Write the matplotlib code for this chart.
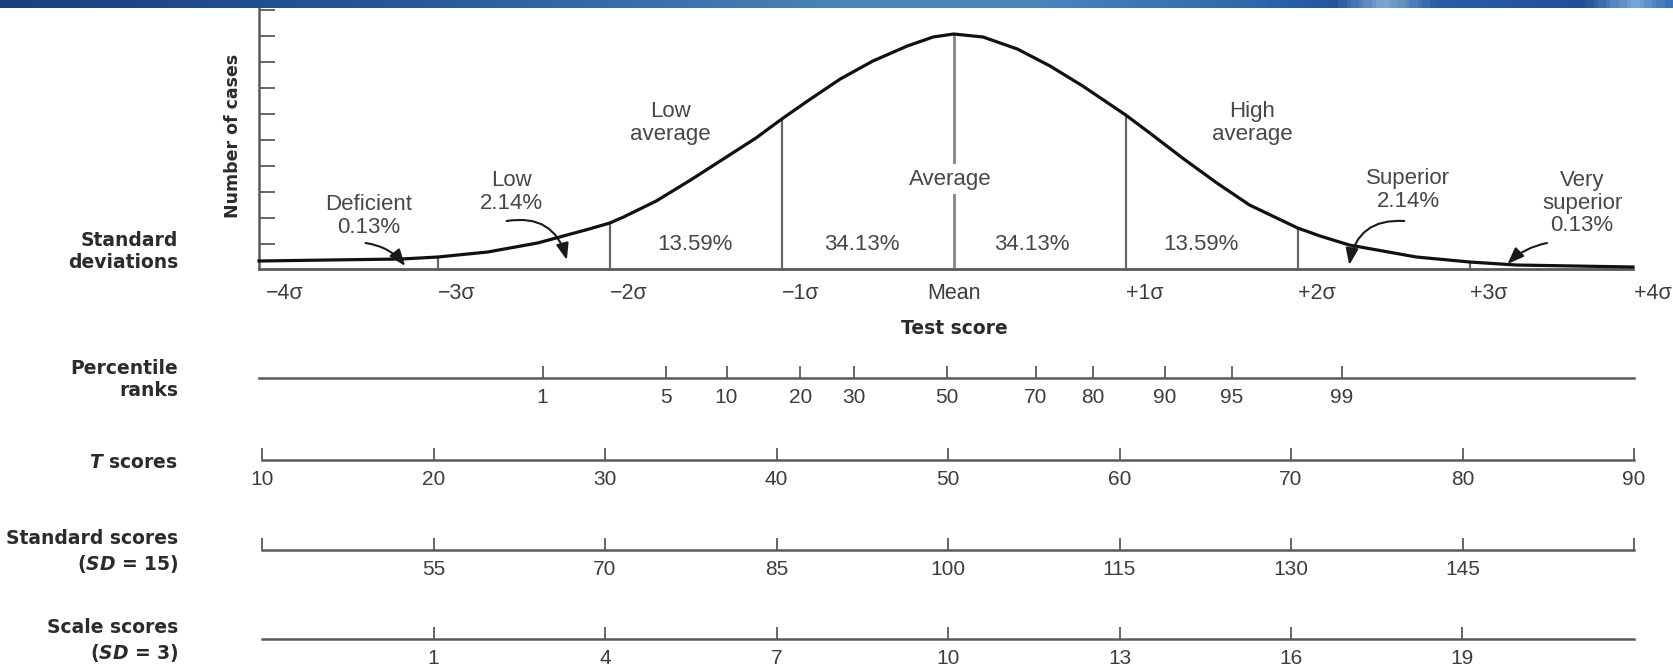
import numpy as np
import matplotlib
matplotlib.use("Agg")
import matplotlib.pyplot as plt
from matplotlib.colors import LinearSegmentedColormap
from matplotlib.transforms import blended_transform_factory

plt.rcParams['mathtext.fontset'] = 'custom'
plt.rcParams['mathtext.it'] = 'DejaVu Sans:bold:italic'
plt.rcParams['mathtext.rm'] = 'DejaVu Sans:bold'

# ---------------- data ----------------
CURVE_Z = [-4.04, -3.63, -3.21, -3.0, -2.71, -2.42, -2.12, -2.0, -1.92, -1.73, -1.53,
           -1.34, -1.15, -1.0, -0.85, -0.66, -0.47, -0.27, -0.12, 0.0, 0.17, 0.37,
           0.56, 0.75, 1.0, 1.14, 1.33, 1.53, 1.72, 2.0, 2.13, 2.30, 2.69, 3.0,
           3.27, 3.95]
CURVE_H = [8, 9, 10, 12, 17, 26, 40, 46, 52, 68, 89,
           110, 131, 150, 168, 190, 208, 223, 232, 235, 232, 220,
           203, 183, 154, 136, 111, 86, 64, 41, 33, 24, 12, 7,
           4, 2]

BOUNDARY_Z = [-3, -2, -1, 1, 2, 3]
BOUNDARY_H = [12, 46, 150, 154, 41, 7]
MEAN_H = 235

Y_TICKS = [25, 51, 77, 103, 129, 155, 181, 207, 233, 259]

SIGMA_Z = [-4, -3, -2, -1, 0, 1, 2, 3, 4]
SIGMA_LABELS = ["\u22124\u03c3", "\u22123\u03c3", "\u22122\u03c3", "\u22121\u03c3", "Mean",
                "+1\u03c3", "+2\u03c3", "+3\u03c3", "+4\u03c3"]

REGION_PCTS = ["13.59%", "34.13%", "34.13%", "13.59%"]

PCT_Z = [-2.35, -1.63, -1.28, -0.85, -0.54, 0.0, 0.52, 0.85, 1.27, 1.66, 2.30]
PCT_LABELS = ["1", "5", "10", "20", "30", "50", "70", "80", "90", "95", "99"]

T_VALUES = [10, 20, 30, 40, 50, 60, 70, 80, 90]
STD_VALUES = [40, 55, 70, 85, 100, 115, 130, 145, 160]
STD_LABELS = ["", "55", "70", "85", "100", "115", "130", "145", ""]
SCALE_VALUES = [1, 4, 7, 10, 13, 16, 19]

# ---------------- layout helpers ----------------
W, H = 1673, 669
fig = plt.figure(figsize=(W / 100, H / 100), dpi=100)
fig.patch.set_facecolor('white')


def F(x, y):
    return (x / W, 1 - y / H)


REG = 'Liberation Sans'
TXT = '#3d3d3d'
LAB = '#2b2b2b'
LINE = '#5a5a5a'
bold = dict(family='DejaVu Sans', fontweight='bold', fontsize=13.5, color=LAB)

# ---------------- main curve axes ----------------
x0, x1 = 259, 1633
base_y = 269
ax = fig.add_axes([x0 / W, 1 - base_y / H, (x1 - x0) / W, base_y / H])
ax.set_xlim(-4.04, 3.95)
ax.set_ylim(0, base_y)
ax.set_facecolor('none')
for s in ['top', 'right']:
    ax.spines[s].set_visible(False)
ax.spines['left'].set_color(LINE)
ax.spines['left'].set_linewidth(1.8)
ax.spines['bottom'].set_color(LINE)
ax.spines['bottom'].set_linewidth(2.0)
ax.set_xticks([])
ax.set_yticks(Y_TICKS)
ax.tick_params(axis='y', direction='in', length=11.5, width=1.3, color=LINE,
               labelleft=False)

ax.plot(CURVE_Z, CURVE_H, color='#111111', lw=2.3, clip_on=False,
        solid_joinstyle='round', zorder=4)
ax.vlines(BOUNDARY_Z, 0, BOUNDARY_H, color='#666666', lw=1.6, zorder=2)
ax.vlines([0], 0, MEAN_H, color='#858585', lw=2.0, zorder=2)

# region texts (centres in pixels)
ann = dict(family=REG, fontsize=16, color='#474747', ha='center', va='center',
           linespacing=1.12)
for (px, py), t in zip([(695, 245), (862, 245), (1032, 245), (1201, 245)], REGION_PCTS):
    fig.text(*F(px, py), t, **ann)
fig.text(*F(670, 123), "Low\naverage", **ann)
fig.text(*F(1252, 123), "High\naverage", **ann)
fig.text(*F(950, 179), "Average", zorder=5,
         bbox=dict(facecolor='white', edgecolor='none', pad=3), **ann)
fig.text(*F(369, 216), "Deficient\n0.13%", **ann)
fig.text(*F(511, 192), "Low\n2.14%", **ann)
fig.text(*F(1408, 190), "Superior\n2.14%", **ann)
fig.text(*F(1582, 203), "Very\nsuperior\n0.13%", **ann)

arrow = dict(arrowstyle='-|>,head_length=1.0,head_width=0.38', color='#1a1a1a', lw=1.5,
             shrinkA=0, shrinkB=0)
for (zs, hs), (ze, he), rad in [((-3.42, 26), (-3.19, 3), -0.2),
                                ((-2.60, 48), (-2.25, 9), -0.45),
                                ((2.62, 48), (2.30, 4), 0.45),
                                ((3.45, 26), (3.22, 5), 0.15)]:
    ax.annotate('', xy=(ze, he), xytext=(zs, hs),
                arrowprops=dict(connectionstyle=f'arc3,rad={rad}', **arrow), zorder=6)

# sigma labels
tr = blended_transform_factory(ax.transData, fig.transFigure)
for z, lab in zip(SIGMA_Z, SIGMA_LABELS):
    ha = 'center' if lab == 'Mean' else 'left'
    xx = z
    if z == SIGMA_Z[-1]:
        ha, xx = 'right', ax.transData.inverted().transform((W - 1, 0))[0]
    ax.text(xx, 1 - 293 / H, lab, transform=tr, ha=ha, va='center', family=REG,
            fontsize=15.5, color=TXT, clip_on=False)
fig.text(*F(954, 329), "Test score", ha='center', va='center', **bold)

# y label
fig.text(*F(233, 136), "Number of cases", rotation=90, ha='center', va='center',
         **{**bold, 'fontsize': 12.5})

# row labels
fig.text(*F(178, 251), "Standard\ndeviations", ha='right', va='center', linespacing=1.2, **bold)
fig.text(*F(178, 380), "Percentile\nranks", ha='right', va='center', linespacing=1.2, **bold)
fig.text(*F(178, 462), "$T$ scores", ha='right', va='center', **bold)
fig.text(*F(178, 552), "Standard scores\n($SD$ = 15)", ha='right', va='center',
         linespacing=1.3, **bold)
fig.text(*F(178, 641), "Scale scores\n($SD$ = 3)", ha='right', va='center',
         linespacing=1.3, **bold)


# ---------------- score rows ----------------
def row(line_y, xlim, ticks, labels, left=262, right=1634):
    r = fig.add_axes([left / W, 1 - line_y / H, (right - left) / W, 20 / H])
    r.set_xlim(*xlim)
    r.set_ylim(0, 1)
    r.set_facecolor('none')
    for s in ['top', 'right', 'left']:
        r.spines[s].set_visible(False)
    r.spines['bottom'].set_color(LINE)
    r.spines['bottom'].set_linewidth(1.8)
    r.set_yticks([])
    r.set_xticks(ticks)
    r.set_xticklabels(labels, family=REG, fontsize=15, color=TXT)
    r.tick_params(axis='x', direction='in', length=8.5, width=1.3, color=LINE, pad=7)
    for t in r.xaxis.get_major_ticks():
        t.tick1line.set_clip_on(False)
    return r


row(378, (-4, 4), PCT_Z, PCT_LABELS, left=259)
row(460, (10, 90), T_VALUES, [str(v) for v in T_VALUES])
row(550, (40, 160), STD_VALUES, STD_LABELS)
row(639, (-2, 22), SCALE_VALUES, [str(v) for v in SCALE_VALUES])

# ---------------- header band ----------------
hb = fig.add_axes([0, 1 - 8 / H, 1, 8 / H])
cmap = LinearSegmentedColormap.from_list('hdr', [
    (0.0, '#1b3f7c'), (0.25, '#27599c'), (0.5, '#4a83b6'), (0.62, '#4a86bb'),
    (0.75, '#2f68aa'), (0.8, '#23559a'), (0.83, '#7fa8d2'), (0.86, '#2a5fa4'),
    (0.95, '#214f98'), (0.98, '#7aa6d4'), (1.0, '#3a74b8')])
hb.imshow(np.linspace(0, 1, 400)[None, :], aspect='auto', cmap=cmap, extent=[0, 1, 0, 1])
hb.set_axis_off()

fig.savefig('out.png', dpi=100, facecolor='white')
